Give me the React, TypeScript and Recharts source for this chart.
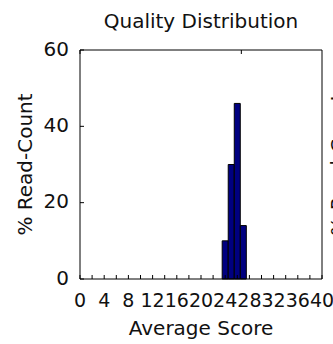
import { BarChart, Bar, XAxis, YAxis } from 'recharts'

const scores = [24, 25, 26, 27]
const readPercent = [10, 30, 46, 14]
const xTicks = [0, 2, 4, 6, 8, 10, 12, 14, 16, 18, 20, 22, 24, 26, 28, 30, 32, 34, 36, 38, 40]
const yTicks = [0, 20, 40, 60]

const data = scores.map((s, i) => ({ score: s, pct: readPercent[i] }))

const FONT = '"DejaVu Sans", sans-serif'
const INK = '#111'
const TICK = 4

function BottomTick({ x, y, payload }: any) {
  return (
    <g>
      <line x1={x} y1={y} x2={x} y2={y - TICK} stroke="#000" />
      {payload.value % 4 === 0 && (
        <text x={x} y={y + 22} textAnchor="middle" dominantBaseline="middle" fontSize={19} fontFamily={FONT} fill={INK}>
          {payload.value}
        </text>
      )}
    </g>
  )
}

function TopTick({ x, y }: any) {
  return <line x1={x} y1={y} x2={x} y2={y + TICK} stroke="#000" />
}

function LeftTick({ x, y, payload }: any) {
  return (
    <g>
      <line x1={x} y1={y} x2={x + TICK} y2={y} stroke="#000" />
      <text x={x - 11} y={y} textAnchor="end" dominantBaseline="middle" fontSize={20} fontFamily={FONT} fill={INK}>
        {payload.value}
      </text>
    </g>
  )
}

function RightTick({ x, y }: any) {
  return <line x1={x} y1={y} x2={x - TICK} y2={y} stroke="#000" />
}

export default function App() {
  return (
    <div style={{ position: 'absolute', left: 0, top: 0, width: 333, height: 344, background: '#fff' }}>
      <BarChart width={333} height={344} data={data} margin={{ top: 49, right: 0, bottom: 0, left: 0 }}>
        <text x={201} y={22} textAnchor="middle" dominantBaseline="middle" fontSize={20} fontFamily={FONT} fill={INK}>
          Quality Distribution
        </text>
        <text x={201} y={329} textAnchor="middle" dominantBaseline="middle" fontSize={20} fontFamily={FONT} fill={INK}>
          Average Score
        </text>
        <text x={26} y={164.5} textAnchor="middle" dominantBaseline="middle" fontSize={20} fontFamily={FONT} fill={INK} transform="rotate(-90 26 164.5)">
          % Read-Count
        </text>
        <text x={339} y={164.5} textAnchor="middle" dominantBaseline="middle" fontSize={20} fontFamily={FONT} fill={INK} transform="rotate(-90 339 164.5)">
          % Read-Count
        </text>
        <XAxis
          xAxisId="bottom"
          dataKey="score"
          type="number"
          domain={[0, 40]}
          ticks={xTicks}
          interval={0}
          height={65}
          tickSize={0}
          tickMargin={0}
          tickLine={false}
          axisLine={{ stroke: '#000' }}
          tick={<BottomTick />}
        />
        <XAxis
          xAxisId="top"
          orientation="top"
          type="number"
          domain={[0, 40]}
          ticks={xTicks}
          interval={0}
          height={1}
          tickSize={0}
          tickMargin={0}
          tickLine={false}
          axisLine={{ stroke: '#000' }}
          tick={<TopTick />}
        />
        <YAxis
          yAxisId="left"
          domain={[0, 60]}
          ticks={yTicks}
          interval={0}
          width={80}
          tickSize={0}
          tickMargin={0}
          tickLine={false}
          axisLine={{ stroke: '#000' }}
          tick={<LeftTick />}
        />
        <YAxis
          yAxisId="right"
          orientation="right"
          domain={[0, 60]}
          ticks={yTicks}
          interval={0}
          width={11}
          tickSize={0}
          tickMargin={0}
          tickLine={false}
          axisLine={{ stroke: '#000' }}
          tick={<RightTick />}
        />
        <Bar
          xAxisId="bottom"
          yAxisId="left"
          dataKey="pct"
          barSize={6}
          fill="#000080"
          stroke="#000"
          strokeWidth={1}
          isAnimationActive={false}
        />
      </BarChart>
    </div>
  )
}
